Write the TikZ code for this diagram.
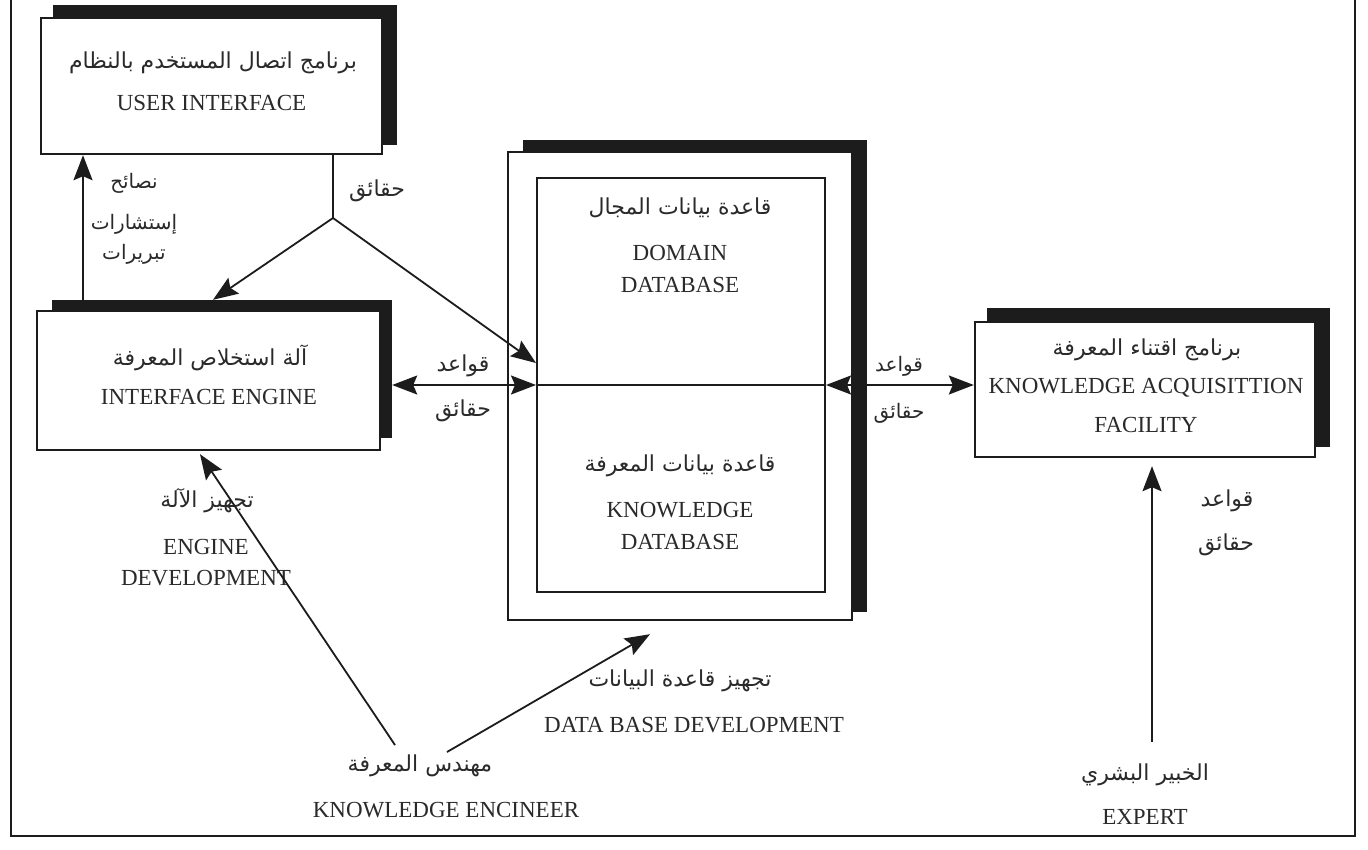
\documentclass[tikz,border=0pt]{standalone}
\usepackage{fontspec}
\setmainfont{Liberation Serif}
\newfontfamily\arabicfont[Script=Arabic]{DejaVu Sans}
\TeXXeTstate=1
\usetikzlibrary{arrows.meta,calc}
\newcommand\artxt[1]{{\arabicfont\beginR #1\endR}}
\definecolor{ink}{HTML}{1C1C1C}
\definecolor{txt}{HTML}{2A2A2A}
\begin{document}
\begin{tikzpicture}[x=1pt,y=-1pt,
  shd/.style={fill=ink,draw=none,inner sep=0pt},
  boxst/.style={draw=ink,fill=white,line width=2.4pt,inner sep=0pt},
  en/.style={font=\fontsize{23}{28}\selectfont,text=txt,inner sep=0pt},
  arb/.style={font=\fontsize{22}{26}\arabicfont,text=txt,inner sep=0pt},
  arbs/.style={font=\fontsize{20}{24}\arabicfont,text=txt,inner sep=0pt},
  ln/.style={draw=ink,line width=1.8pt},
  arr/.style={ln,-{Stealth[length=25pt,width=19pt,inset=4pt]}},
  arrtwo/.style={ln,{Stealth[length=25pt,width=19pt,inset=4pt]}-{Stealth[length=25pt,width=19pt,inset=4pt]}}
]
\useasboundingbox (0,0) rectangle (1368,849);
\fill[white] (0,0) rectangle (1368,849);
% frame
\draw[ln] (11,0) -- (11,836) -- (1355,836) -- (1355,0);

% user interface
\node[shd,minimum width=344pt,minimum height=140pt] (uis) at (225,75) {};
\node[boxst,minimum width=341pt,minimum height=136pt] (ui) at (211.5,86) {};
\node[arb] (uiar) at (213,63) {\artxt{برنامج اتصال المستخدم بالنظام}};
\node[en] (uien) at (211.5,103) {USER INTERFACE};

% interface engine
\node[shd,minimum width=340pt,minimum height=138pt] (ies) at (222,369) {};
\node[boxst,minimum width=343pt,minimum height=139pt] (ie) at (208.5,380.5) {};
\node[arb] (iear) at (210,358) {\artxt{آلة استخلاص المعرفة}};
\node[en] (ieen) at (209,397) {INTERFACE ENGINE};

% databases
\node[shd,minimum width=344pt,minimum height=472pt] (dbs) at (695,376) {};
\node[boxst,minimum width=344pt,minimum height=468pt] (dbo) at (680,386) {};
\node[boxst,line width=2pt,minimum width=288pt,minimum height=414pt] (dbi) at (681,385) {};
\node[arb] (ddar) at (680,208) {\artxt{قاعدة بيانات المجال}};
\node[en] (dden1) at (680,253) {DOMAIN};
\node[en] (dden2) at (680,285) {DATABASE};
\node[arb] (kdar) at (680,466) {\artxt{قاعدة بيانات المعرفة}};
\node[en] (kden1) at (680,510) {KNOWLEDGE};
\node[en] (kden2) at (680,542) {DATABASE};

% knowledge acquisition facility
\node[shd,minimum width=343pt,minimum height=139pt] (kafs) at (1158.5,377.5) {};
\node[boxst,minimum width=340pt,minimum height=135pt] (kaf) at (1145,389.5) {};
\node[arb] (kafar) at (1147,350) {\artxt{برنامج اقتناء المعرفة}};
\node[en] (kafen1) at (1146,388) {KNOWLEDGE ACQUISITTION};
\node[en] (kafen2) at (1146,425) {FACILITY};

% helper coordinates
\coordinate (j) at (333,218);
\coordinate (xa) at (83,0);
\coordinate (yh) at (0,385);

% connectors
\draw[arr] (ies.north -| xa) -- (ui.south -| xa);
\draw[ln] (ui.south -| j) -- (j);
\draw[arr] (j) -- ([xshift=-9pt]ies.north);
\draw[arr] (j) -- ([yshift=22pt]dbi.west);
\draw[arrtwo] (ies.east |- yh) -- (dbi.west |- yh);
\draw[ln] (dbi.west |- yh) -- (dbi.east |- yh);
\draw[arrtwo] (dbi.east |- yh) -- (kaf.west |- yh);

% labels near top
\node[arb] (lfact1) at (377,191) {\artxt{حقائق}};
\node[arbs] (ladv1) at (134,183) {\artxt{نصائح}};
\node[arbs] (ladv2) at (134,224) {\artxt{إستشارات}};
\node[arbs] (ladv3) at (134,254) {\artxt{تبريرات}};
\node[arb] (lrul2) at (463,366) {\artxt{قواعد}};
\node[arb] (lfact2) at (463,411) {\artxt{حقائق}};
\node[arbs] (lrul3) at (899,366) {\artxt{قواعد}};
\node[arbs] (lfact3) at (899,413) {\artxt{حقائق}};

% engine development
\node[arb] (edar) at (207,501) {\artxt{تجهيز الآلة}};
\node[en] (eden1) at (206,547) {ENGINE};
\node[en] (eden2) at (206,578) {DEVELOPMENT};

% database development
\node[arb] (dbdar) at (680,681) {\artxt{تجهيز قاعدة البيانات}};
\node[en] (dbden) at (694,725) {DATA BASE DEVELOPMENT};

% knowledge engineer
\node[arb] (kear) at (420,766) {\artxt{مهندس المعرفة}};
\node[en] (keen) at (446,810) {KNOWLEDGE ENCINEER};
\draw[arr] ([xshift=-25pt,yshift=21pt]kear.center) -- ([xshift=-8.5pt,yshift=-3pt]ie.south);
\draw[arr] ([xshift=27pt,yshift=14pt]kear.center) -- ([xshift=-30pt,yshift=-13pt]dbo.south);

% expert
\node[arb] (exar) at (1145,775) {\artxt{الخبير البشري}};
\node[en] (exen) at (1145,817) {EXPERT};
\draw[arr] ([xshift=7pt,yshift=33pt]exar.center) -- ([xshift=7pt,yshift=-8pt]kaf.south);
\node[arb] (lrul4) at (1227,501) {\artxt{قواعد}};
\node[arb] (lfact4) at (1226,545) {\artxt{حقائق}};
\end{tikzpicture}
\end{document}
